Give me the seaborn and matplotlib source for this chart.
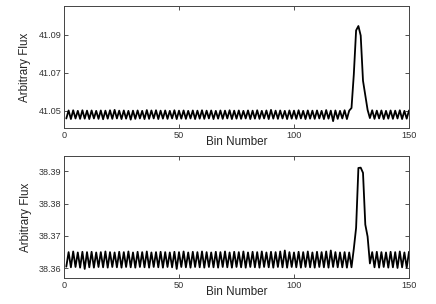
import numpy as np
import pandas as pd
import matplotlib
matplotlib.use("Agg")
import matplotlib.pyplot as plt
import seaborn as sns

bins = list(range(1, 151))

flux_top = [
    41.0460, 41.0502, 41.0457, 41.0503, 41.0460, 41.0500, 41.0458, 41.0503, 41.0459, 41.0501,
    41.0457, 41.0502, 41.0460, 41.0500, 41.0458, 41.0502, 41.0456, 41.0501, 41.0459, 41.0503,
    41.0458, 41.0505, 41.0460, 41.0501, 41.0457, 41.0502, 41.0459, 41.0500, 41.0454, 41.0501,
    41.0458, 41.0502, 41.0460, 41.0500, 41.0457, 41.0504, 41.0458, 41.0502, 41.0460, 41.0503,
    41.0457, 41.0501, 41.0459, 41.0502, 41.0458, 41.0500, 41.0460, 41.0503, 41.0457, 41.0501,
    41.0459, 41.0502, 41.0458, 41.0500, 41.0460, 41.0502, 41.0457, 41.0501, 41.0459, 41.0503,
    41.0458, 41.0501, 41.0460, 41.0502, 41.0457, 41.0500, 41.0459, 41.0502, 41.0458, 41.0501,
    41.0460, 41.0503, 41.0457, 41.0501, 41.0459, 41.0502, 41.0458, 41.0500, 41.0460, 41.0502,
    41.0457, 41.0501, 41.0459, 41.0503, 41.0458, 41.0500, 41.0460, 41.0502, 41.0457, 41.0505,
    41.0459, 41.0501, 41.0458, 41.0502, 41.0460, 41.0500, 41.0457, 41.0502, 41.0459, 41.0501,
    41.0458, 41.0503, 41.0460, 41.0500, 41.0457, 41.0502, 41.0459, 41.0501, 41.0458, 41.0502,
    41.0460, 41.0500, 41.0457, 41.0504, 41.0459, 41.0501, 41.0446, 41.0502, 41.0458, 41.0500,
    41.0460, 41.0503, 41.0457, 41.0501, 41.0515, 41.0690, 41.0922, 41.0945, 41.0895, 41.0658,
    41.0580, 41.0505, 41.0462, 41.0503, 41.0458, 41.0501, 41.0460, 41.0502, 41.0457, 41.0500,
    41.0459, 41.0502, 41.0458, 41.0501, 41.0460, 41.0503, 41.0457, 41.0500, 41.0459, 41.0502,
]

flux_bottom = [
    38.3605, 38.3650, 38.3603, 38.3652, 38.3604, 38.3649, 38.3602, 38.3651, 38.3598, 38.3650,
    38.3603, 38.3651, 38.3602, 38.3649, 38.3604, 38.3650, 38.3603, 38.3652, 38.3602, 38.3650,
    38.3604, 38.3649, 38.3603, 38.3651, 38.3602, 38.3650, 38.3604, 38.3652, 38.3603, 38.3649,
    38.3602, 38.3651, 38.3604, 38.3650, 38.3603, 38.3652, 38.3602, 38.3649, 38.3604, 38.3650,
    38.3603, 38.3651, 38.3602, 38.3650, 38.3604, 38.3649, 38.3603, 38.3651, 38.3598, 38.3650,
    38.3604, 38.3652, 38.3603, 38.3649, 38.3602, 38.3651, 38.3604, 38.3650, 38.3603, 38.3652,
    38.3602, 38.3650, 38.3604, 38.3649, 38.3603, 38.3651, 38.3602, 38.3650, 38.3604, 38.3652,
    38.3603, 38.3649, 38.3602, 38.3651, 38.3604, 38.3650, 38.3603, 38.3652, 38.3602, 38.3649,
    38.3604, 38.3651, 38.3603, 38.3650, 38.3602, 38.3652, 38.3604, 38.3649, 38.3603, 38.3651,
    38.3602, 38.3650, 38.3604, 38.3652, 38.3603, 38.3655, 38.3602, 38.3650, 38.3604, 38.3649,
    38.3603, 38.3651, 38.3602, 38.3650, 38.3604, 38.3652, 38.3603, 38.3649, 38.3602, 38.3651,
    38.3604, 38.3650, 38.3603, 38.3652, 38.3602, 38.3655, 38.3604, 38.3650, 38.3603, 38.3649,
    38.3603, 38.3650, 38.3602, 38.3649, 38.3603, 38.3660, 38.3725, 38.3910, 38.3911, 38.3895,
    38.3735, 38.3698, 38.3615, 38.3650, 38.3603, 38.3651, 38.3602, 38.3650, 38.3604, 38.3649,
    38.3602, 38.3651, 38.3603, 38.3650, 38.3601, 38.3652, 38.3603, 38.3649, 38.3602, 38.3651,
]

top_ticks = [41.05, 41.07, 41.09]
bottom_ticks = [38.36, 38.37, 38.38, 38.39]

sns.set_style("ticks")
plt.rcParams["font.family"] = ["Liberation Sans", "DejaVu Sans"]

fig = plt.figure(figsize=(4.36, 3.04), dpi=100)
ax1 = fig.add_axes([64 / 436, 1 - 128 / 304, 345 / 436, 122 / 304])
ax2 = fig.add_axes([64 / 436, 1 - 278 / 304, 345 / 436, 122 / 304])

panels = [
    (ax1, flux_top, (41.041, 41.105), top_ticks, ["41.05", "41.07", "41.09"]),
    (ax2, flux_bottom, (38.357, 38.3947), bottom_ticks, ["38.36", "38.37", "38.38", "38.39"]),
]

for ax, vals, ylim, yt, ytl in panels:
    df = pd.DataFrame({"bin": bins, "flux": vals})
    sns.lineplot(data=df, x="bin", y="flux", ax=ax, color="black", linewidth=1.3)
    ax.set_xlim(0, 150)
    ax.set_ylim(*ylim)
    ax.set_xticks([0, 50, 100, 150])
    ax.set_xticklabels(["0", "50", "100", "150"])
    ax.set_yticks(yt)
    ax.set_yticklabels(ytl)
    ax.tick_params(direction="in", length=3, width=0.6, top=True, right=True,
                   labelsize=6.6, colors="#333333", pad=2)
    for s in ax.spines.values():
        s.set_linewidth(0.7)
        s.set_color("#444444")
    ax.set_xlabel("Bin Number", fontsize=8.4, labelpad=-3)
    ax.set_ylabel("Arbitrary Flux", fontsize=8.4, labelpad=5)

fig.savefig("out.png", dpi=100)
